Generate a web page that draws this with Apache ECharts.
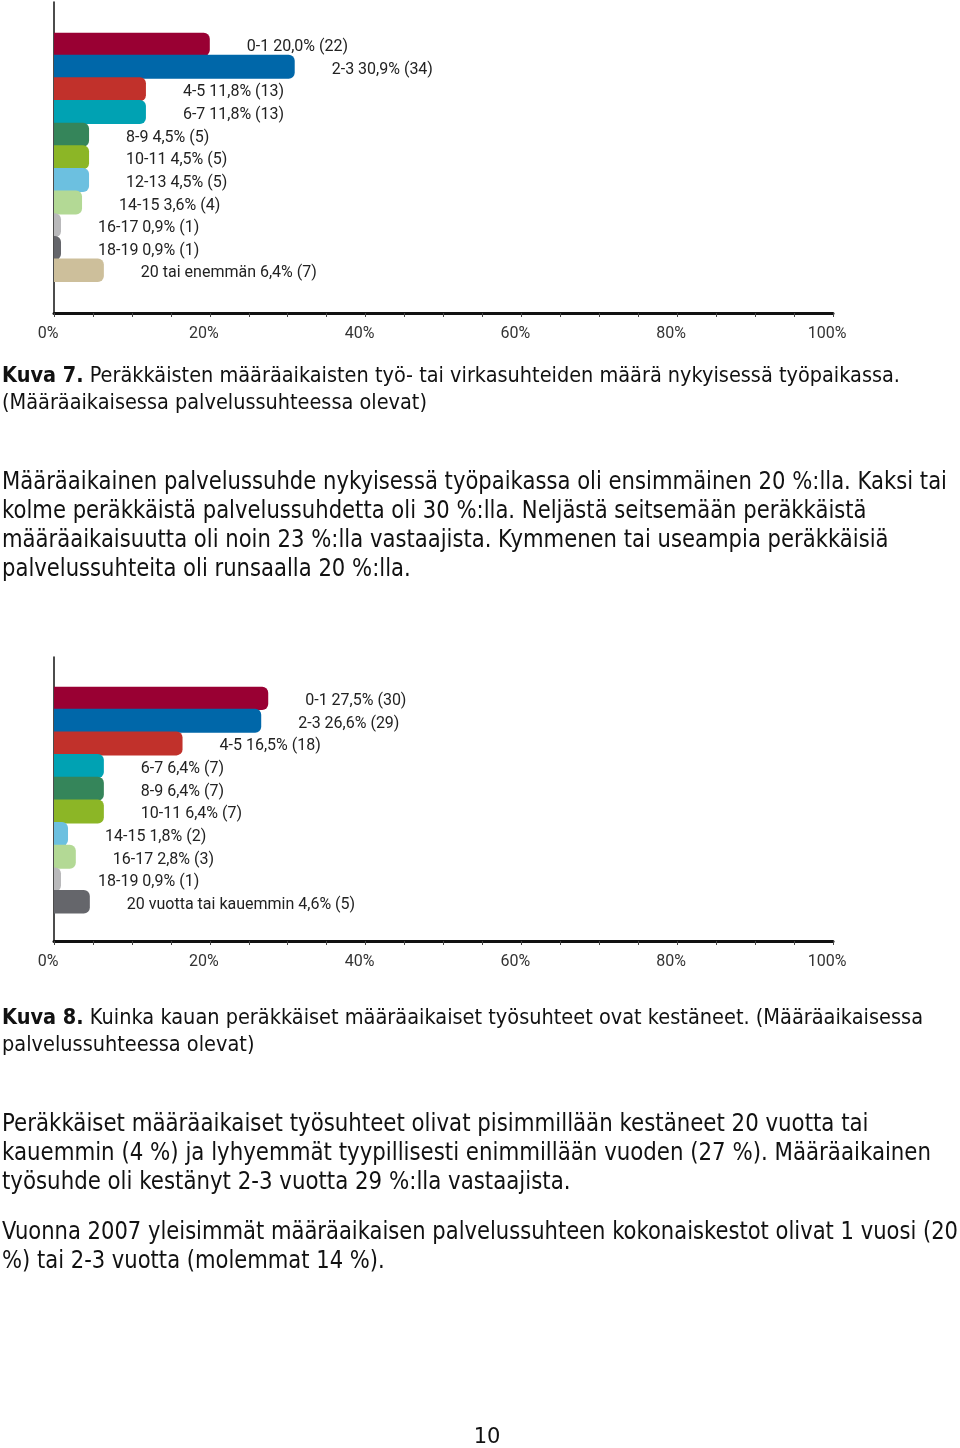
<!DOCTYPE html>
<html><head><meta charset="utf-8">
<script src="https://cdn.jsdelivr.net/npm/echarts@6/dist/echarts.min.js"></script>
<style>html,body{margin:0;padding:0;background:#fff}#c{width:960px;height:1448px}</style>
</head><body><div id="c"></div>
<script>
// ---- data ----
var cats1 = ['0-1','2-3','4-5','6-7','8-9','10-11','12-13','14-15','16-17','18-19','20 tai enemmän'];
var pct1  = [20.0,30.9,11.8,11.8,4.5,4.5,4.5,3.6,0.9,0.9,6.4];
var n1    = [22,34,13,13,5,5,5,4,1,1,7];
var cats2 = ['0-1','2-3','4-5','6-7','8-9','10-11','14-15','16-17','18-19','20 vuotta tai kauemmin'];
var pct2  = [27.5,26.6,16.5,6.4,6.4,6.4,1.8,2.8,0.9,4.6];
var n2    = [30,29,18,7,7,7,2,3,1,5];
var tickLabels = ['0%','20%','40%','60%','80%','100%'];
// ---- styles ----
var colors1 = ['#990033','#0067A9','#C1312B','#00A2B3','#35855A','#8CB626','#6CC0E0','#B3D995','#B9B9BB','#65666B','#CDBF9B'];
var colors2 = ['#990033','#0067A9','#C1312B','#00A2B3','#35855A','#8CB626','#6CC0E0','#B3D995','#B9B9BB','#65666B'];

var caption7 = ['{b|Kuva 7.} Peräkkäisten määräaikaisten työ- tai virkasuhteiden määrä nykyisessä työpaikassa.',
  '(Määräaikaisessa palvelussuhteessa olevat)'];
var para1 = ['Määräaikainen palvelussuhde nykyisessä työpaikassa oli ensimmäinen 20 %:lla. Kaksi tai',
  'kolme peräkkäistä palvelussuhdetta oli 30 %:lla. Neljästä seitsemään peräkkäistä',
  'määräaikaisuutta oli noin 23 %:lla vastaajista. Kymmenen tai useampia peräkkäisiä',
  'palvelussuhteita oli runsaalla 20 %:lla.'];
var caption8 = ['{b|Kuva 8.} Kuinka kauan peräkkäiset määräaikaiset työsuhteet ovat kestäneet. (Määräaikaisessa',
  'palvelussuhteessa olevat)'];
var para2 = ['Peräkkäiset määräaikaiset työsuhteet olivat pisimmillään kestäneet 20 vuotta tai',
  'kauemmin (4 %) ja lyhyemmät tyypillisesti enimmillään vuoden (27 %). Määräaikainen',
  'työsuhde oli kestänyt 2-3 vuotta 29 %:lla vastaajista.'];
var para3 = ['Vuonna 2007 yleisimmät määräaikaisen palvelussuhteen kokonaiskestot olivat 1 vuosi (20',
  '%) tai 2-3 vuotta (molemmat 14 %).'];

var FONT = 'DejaVu Sans';
var cv = document.createElement('canvas').getContext('2d');
function measure(t, size){
  var w = 0;
  var m = t.match(/^\{b\|([^}]*)\}(.*)$/);
  if (m) { cv.font = 'bold ' + size + 'px "' + FONT + '"'; w += cv.measureText(m[1]).width; t = m[2]; }
  cv.font = size + 'px "' + FONT + '"';
  return w + cv.measureText(t).width;
}
var graphics = [];
function block(lines, y0, lh, size, fitIdx, fitW){
  var s = fitW / measure(lines[fitIdx], size);
  lines.forEach(function(t, i){
    graphics.push({type:'text', x:2, y:y0 + i*lh, scaleX:s, silent:true,
      style:{text:t, font: size + 'px "' + FONT + '"', fill:'#111', textVerticalAlign:'middle',
        rich:{b:{fontWeight:'bold', fontSize:size, fontFamily:FONT, fill:'#111'}}}});
  });
}
block(caption7, 377, 26.5, 21, 0, 898);
block(para1, 483, 29, 24, 0, 945);
block(caption8, 1019, 27, 21, 0, 921);
block(para2, 1125, 29, 24, 1, 929);
block(para3, 1233, 29, 24, 0, 956);
graphics.push({type:'text', x:487, y:1438, silent:true,
  style:{text:'10', font:'21px "' + FONT + '"', fill:'#111', textAlign:'center', textVerticalAlign:'middle'}});

function fmt(v){ return v.toFixed(1).replace('.', ','); }

function axisX(gi){
  return {gridIndex:gi, type:'value', min:0, max:100, interval:5,
    axisLine:{show:true, lineStyle:{color:'#111', width:3}},
    axisTick:{show:true, length:4, lineStyle:{color:'#444', width:1}},
    splitLine:{show:false},
    axisLabel:{margin:13, fontFamily:'Roboto', fontSize:16, color:'#333', padding:[0,12,0,0],
      formatter:function(v){ return v % 20 === 0 ? tickLabels[v/20] : ''; }}};
}
function hiddenX(gi){
  return {gridIndex:gi, type:'value', min:0, max:100, show:false};
}
function axisY(gi){
  return {gridIndex:gi, type:'category', data:[], axisLine:{show:true, onZero:false, lineStyle:{color:'#111', width:1.5}},
    axisTick:{show:false}, axisLabel:{show:false}};
}
function barY(gi, cats){
  return {gridIndex:gi, type:'category', data:cats, inverse:true, show:false};
}
function barSeries(gi, cats, pct, n, colors){
  return {type:'bar', xAxisIndex:gi, yAxisIndex:gi, barWidth:24, barCategoryGap:0,
    data: pct.map(function(v,i){ return {value:v, itemStyle:{color:colors[i]}}; }),
    itemStyle:{borderRadius:[0,6,6,0]},
    label:{show:true, position:'right', distance:37, offset:[0,3], fontFamily:'Roboto', fontSize:16, color:'#222',
      formatter:function(p){ return cats[p.dataIndex] + ' ' + fmt(pct[p.dataIndex]) + '% (' + n[p.dataIndex] + ')'; }},
    animation:false};
}

var chart = echarts.init(document.getElementById('c'), null, {renderer:'canvas'});
chart.setOption({
  animation:false,
  backgroundColor:'#fff',
  grid:[
    {left:54, width:779, top:2, height:311},
    {left:54, width:779, top:32.7, height:249.2},
    {left:54, width:779, top:657, height:284},
    {left:54, width:779, top:686.7, height:226.7}
  ],
  xAxis:[axisX(0), hiddenX(1), axisX(2), hiddenX(3)],
  yAxis:[axisY(0), barY(1, cats1), axisY(2), barY(3, cats2)],
  series:[barSeries(1, cats1, pct1, n1, colors1), barSeries(3, cats2, pct2, n2, colors2)],
  graphic: graphics
});
</script></body></html>
